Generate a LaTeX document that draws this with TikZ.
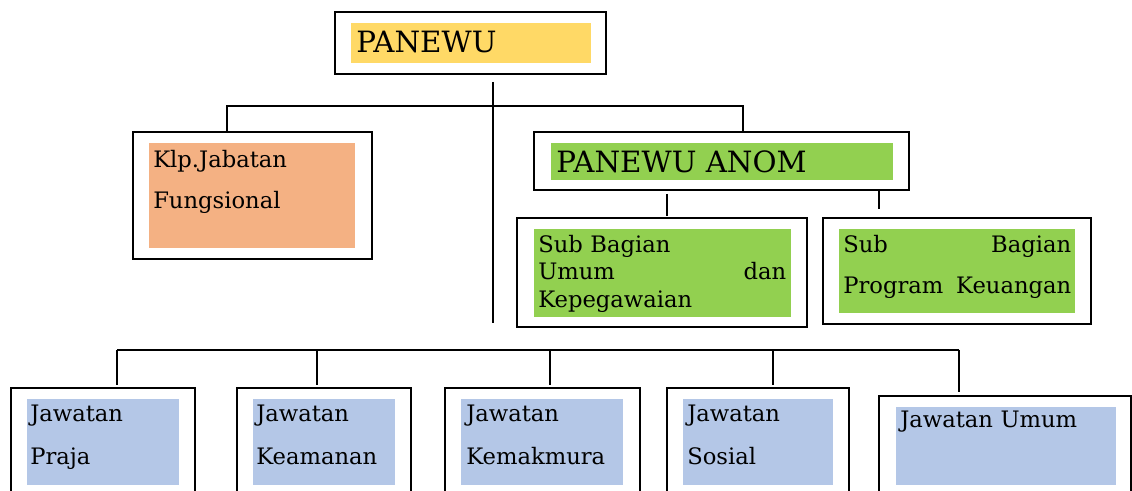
\documentclass[tikz,border=0pt]{standalone}
\usepackage{fontspec}
\setmainfont{DejaVu Serif}
\usetikzlibrary{fit}

\definecolor{headyellow}{HTML}{FFD966}
\definecolor{funcorange}{HTML}{F4B183}
\definecolor{anomgreen}{HTML}{92D050}
\definecolor{jawatanblue}{HTML}{B4C7E7}

\begin{document}
\begin{tikzpicture}[x=0.75pt,y=-0.75pt,
  outerbox/.style={draw,line width=1.8pt,inner sep=0pt,outer sep=0pt},
  fillbox/.style={inner sep=0pt,outer sep=0pt},
  headtext/.style={anchor=base west,inner sep=0pt,font=\fontsize{22}{26}\selectfont},
  bodytext/.style={anchor=north west,inner sep=0pt,align=left,font=\fontsize{17}{#1}\selectfont},
  conn/.style={line width=1.3pt}]
\path[use as bounding box,clip] (0,0) rectangle (1132,491);

% top level
\node[outerbox,fit={(335,12) (606,74)}] (panewu) {};
\node[fillbox,fill=headyellow,fit={(351,23) (591,63)}] (panewufill) {};
\node[headtext] (panewutext) at (356,53) {PANEWU};

\node[outerbox,fit={(133,132) (372,259)}] (klp) {};
\node[fillbox,fill=funcorange,fit={(149,143) (355,248)}] (klpfill) {};
\node[bodytext=30.75,text width=190] (klptext) at (153,150) {Klp.Jabatan\\Fungsional};

\node[outerbox,fit={(534,132) (909,190)}] (anom) {};
\node[fillbox,fill=anomgreen,fit={(551,143) (893,180)}] (anomfill) {};
\node[headtext] (anomtext) at (556,173) {PANEWU ANOM};

\node[outerbox,fit={(517,218) (807,327)}] (subumum) {};
\node[fillbox,fill=anomgreen,fit={(534,229) (791,317)}] (subumumfill) {};
\node[bodytext=20.6,text width=186] (subumumtext) at (538,235)
  {Sub Bagian\\Umum \hfill dan\\Kepegawaian};

\node[outerbox,fit={(823,218) (1091,324)}] (subprog) {};
\node[fillbox,fill=anomgreen,fit={(839,229) (1075,313)}] (subprogfill) {};
\node[bodytext=30.75,text width=171] (subprogtext) at (843,235)
  {Sub \hfill Bagian\\Program \hfill Keuangan};

% jawatan
\node[outerbox,fit={(11,388) (195,500)}] (praja) {};
\node[fillbox,fill=jawatanblue,fit={(27,399) (179,485)}] (prajafill) {};
\node[bodytext=32,text width=140] (prajatext) at (30,405) {Jawatan\\Praja};

\node[outerbox,fit={(237,388) (411,500)}] (keamanan) {};
\node[fillbox,fill=jawatanblue,fit={(253,399) (395,485)}] (keamananfill) {};
\node[bodytext=32,text width=130] (keamanantext) at (256,405) {Jawatan\\Keamanan};

\node[outerbox,fit={(445,388) (640,500)}] (kemakmura) {};
\node[fillbox,fill=jawatanblue,fit={(461,399) (623,485)}] (kemakmurafill) {};
\node[bodytext=32,text width=150] (kemakmuratext) at (466,405) {Jawatan\\Kemakmura};

\node[outerbox,fit={(667,388) (849,500)}] (sosial) {};
\node[fillbox,fill=jawatanblue,fit={(683,399) (833,485)}] (sosialfill) {};
\node[bodytext=32,text width=140] (sosialtext) at (687,405) {Jawatan\\Sosial};

\node[outerbox,fit={(879,396) (1131,500)}] (jumum) {};
\node[fillbox,fill=jawatanblue,fit={(896,407) (1116,485)}] (jumumfill) {};
\node[bodytext=32,text width=210] (jumumtext) at (900,411) {Jawatan Umum};

% connectors
\coordinate (stemtop) at (493,82);
\coordinate (stembot) at (493,323);
\draw[conn] (stemtop) -- (stembot);

\coordinate (topbar) at (0,106);
\draw[conn] (klp.north -| 227,0) -- (topbar -| 227,0) -- (topbar -| 743,0) -- (anom.north -| 743,0);

\draw[conn,shorten <=3pt,shorten >=1.5pt] (anom.south -| 667,0) -- (subumum.north -| 667,0);
\draw[conn,shorten <=0.75pt,shorten >=6.75pt] (anom.south -| 879,0) -- (subprog.north -| 879,0);

\coordinate (lowbar) at (0,350);
\draw[conn] (lowbar -| 117,0) -- (lowbar -| 959,0);
\foreach \x/\b in {117/praja,317/keamanan,550/kemakmura,773/sosial}
  \draw[conn,shorten >=2.25pt] (lowbar -| \x,0) -- (\b.north -| \x,0);
\draw[conn,shorten >=3pt] (lowbar -| 959,0) -- (jumum.north -| 959,0);
\end{tikzpicture}
\end{document}
